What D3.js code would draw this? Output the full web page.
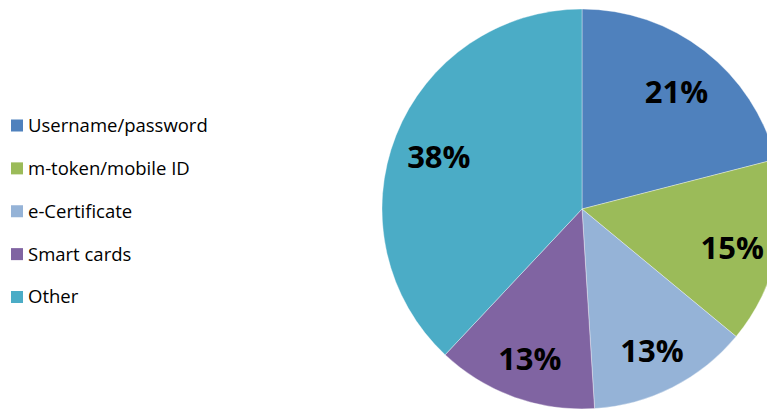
<!DOCTYPE html>
<html>
<head>
<meta charset="utf-8">
<script src="https://cdn.jsdelivr.net/npm/d3@7"></script>
<style>
  body { margin: 0; background: #fff; }
  svg { display: block; }
</style>
</head>
<body>
<svg id="chart" width="767" height="410"></svg>
<script>
// chart data
const categories = ["Username/password", "m-token/mobile ID", "e-Certificate", "Smart cards", "Other"];
const shares = [21, 15, 13, 13, 38];
const colors = ["#4F81BD", "#9BBB59", "#95B3D7", "#8064A2", "#4BACC6"];

const svg = d3.select("#chart");

// pie settings
const cx = 582, cy = 209, radius = 200;

const pie = d3.pie().sort(null).value(d => d);
const arc = d3.arc().innerRadius(0).outerRadius(radius);
const labelArc = d3.arc().innerRadius(154).outerRadius(154);

const g = svg.append("g").attr("transform", `translate(${cx},${cy})`);

g.selectAll("path.slice")
  .data(pie(shares))
  .join("path")
  .attr("class", "slice")
  .attr("d", arc)
  .attr("fill", (d, i) => colors[i])
  .attr("stroke", "#fff")
  .attr("stroke-opacity", 0.6)
  .attr("stroke-width", 0.6);

// percent labels, nudged a bit lower like the original
g.selectAll("text.pct")
  .data(pie(shares))
  .join("text")
  .attr("class", "pct")
  .attr("transform", d => {
    const [x, y] = labelArc.centroid(d);
    return `translate(${x},${y + 5})`;
  })
  .attr("text-anchor", "middle")
  .attr("dy", "0.36em")
  .style("font-family", "'Open Sans', sans-serif")
  .style("font-weight", "bold")
  .style("font-size", "31px")
  .attr("fill", "#000")
  .text(d => d.data + "%");

// legend
const legendY = d3.scalePoint().domain(categories).range([125.5, 297]);

const legend = svg.append("g");
const item = legend.selectAll("g")
  .data(categories)
  .join("g")
  .attr("transform", d => `translate(11,${legendY(d)})`);

item.append("rect")
  .attr("x", 0)
  .attr("y", -6)
  .attr("width", 12)
  .attr("height", 12)
  .attr("fill", (d, i) => colors[i]);

item.append("text")
  .attr("x", 17)
  .attr("dy", "0.35em")
  .style("font-family", "'Open Sans', sans-serif")
  .style("font-size", "18.5px")
  .attr("fill", "#000")
  .text(d => d);
</script>
</body>
</html>
